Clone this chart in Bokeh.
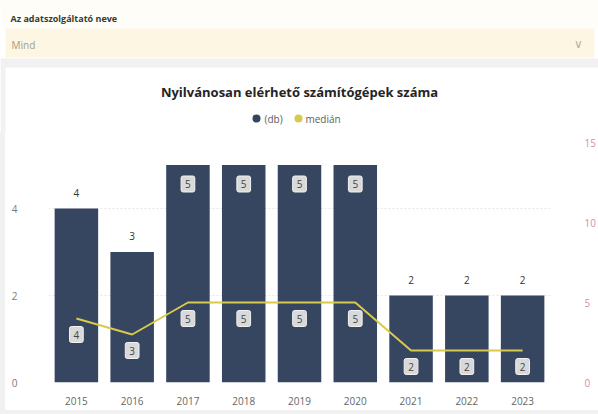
from bokeh.plotting import figure
from bokeh.layouts import column, row
from bokeh.models import Range1d, LinearAxis, FactorRange, FixedTicker, ColumnDataSource, Spacer
from bokeh.core.properties import value
from bokeh.embed import file_html
from bokeh.resources import INLINE

years = ["2015", "2016", "2017", "2018", "2019", "2020", "2021", "2022", "2023"]
db_counts = [4, 3, 5, 5, 5, 5, 2, 2, 2]
median_vals = [4, 3, 5, 5, 5, 5, 2, 2, 2]
left_ticks = [0, 2, 4]
right_ticks = [0, 5, 10, 15]
title_text = "Nyilvánosan elérhető számítógépek száma"
legend_names = ["(db)", "medián"]
filter_label = "Az adatszolgáltató neve"
filter_value = "Mind"

FONT = "Open Sans"
BAR = "#364660"
MED = "#d9c94c"
GRAY = "#f1f1f1"
W = 598
HH = 132           # header height (pixels)
SIDE = 5           # gray strip at left of card
BOT = 4            # gray strip below card
CH = 414 - HH - BOT
FL, FR, FT, FB = 48, 554, 140, 382   # frame edges in page pixels

# ---------------- header (pixel-space figure) ----------------
h = figure(width=W, height=HH, x_range=Range1d(0, W), y_range=Range1d(HH, 0),
           output_backend="svg", toolbar_location=None,
           x_axis_location=None, y_axis_location=None, min_border=0)
h.frame_align = False
h.grid.visible = False
h.outline_line_color = None
h.background_fill_color = "white"
h.border_fill_color = "white"

h.quad(left=[0], right=[W], top=[0], bottom=[28], fill_color="#fffdf8", line_color=None)
h.quad(left=[5], right=[594], top=[28], bottom=[57], fill_color="#fdf6e3", line_color=None)
h.quad(left=[0], right=[W], top=[58], bottom=[67], fill_color=GRAY, line_color=None)
h.quad(left=[0], right=[SIDE], top=[58], bottom=[HH], fill_color=GRAY, line_color=None)

def htext(x, y, t, size="10px", color="#333", bold=False, align="left"):
    h.text(x=[x], y=[y], text=[t], text_font=value(FONT), text_font_size=size,
           text_color=color, text_font_style="bold" if bold else "normal",
           text_align=align, text_baseline="middle")

htext(10, 18, filter_label, size="9px", color="#3b3a2c", bold=True)
htext(11, 44, filter_value, size="10px", color="#a39d8c")
htext(578, 43, "∨", size="12px", color="#b5b0a5", align="center")
htext(299, 91, title_text, size="13px", color="#252423", bold=True, align="center")
h.scatter(x=[256], y=[118], size=8, marker="circle", fill_color=BAR, line_color=None)
htext(264, 118, legend_names[0], size="10px", color="#605e5c")
h.scatter(x=[298], y=[118], size=8, marker="circle", fill_color=MED, line_color=None)
htext(305, 118, legend_names[1], size="10px", color="#605e5c")

# ---------------- chart ----------------
PW = W - SIDE
p = figure(width=PW, height=CH, x_range=FactorRange(*years, range_padding=0),
           y_range=Range1d(0, (FB - FT) / 43.5),
           output_backend="svg", toolbar_location=None,
           min_border_left=FL - SIDE, min_border_right=W - FR,
           min_border_top=FT - HH, min_border_bottom=CH - (FB - HH))
p.frame_align = False
p.extra_y_ranges = {"right": Range1d(0, (FB - FT) / 16.0)}
p.outline_line_color = None
p.background_fill_color = "white"
p.border_fill_color = "white"

ax = p.yaxis[0]
ax.ticker = FixedTicker(ticks=left_ticks)
ax.axis_line_color = None
ax.major_tick_line_color = None
ax.minor_tick_line_color = None
ax.major_label_text_color = "#7a7a7a"
ax.major_label_text_font = FONT
ax.major_label_text_font_size = "10px"
ax.major_label_standoff = 25

rax = LinearAxis(y_range_name="right", ticker=FixedTicker(ticks=right_ticks))
rax.axis_line_color = None
rax.major_tick_line_color = None
rax.minor_tick_line_color = None
rax.major_label_text_color = "#dc8d99"
rax.major_label_text_font = FONT
rax.major_label_text_font_size = "10px"
rax.major_label_standoff = 28
p.add_layout(rax, "right")

xa = p.xaxis[0]
xa.axis_line_color = None
xa.major_tick_line_color = None
xa.minor_tick_line_color = None
xa.major_label_text_color = "#666666"
xa.major_label_text_font = FONT
xa.major_label_text_font_size = "10px"
xa.major_label_standoff = 8

p.xgrid.grid_line_color = None
p.ygrid.ticker = FixedTicker(ticks=[t for t in left_ticks if t > 0])
p.ygrid.grid_line_color = "#e6e6e6"
p.ygrid.grid_line_dash = "2 2"

src = ColumnDataSource(dict(x=years, top=db_counts, med=median_vals,
                            mlbl=[str(v) for v in median_vals]))
p.vbar(x="x", top="top", width=0.78, source=src, fill_color=BAR, line_color=None)
p.line(x="x", y="med", source=src, y_range_name="right", line_color=MED, line_width=2)

mx = max(db_counts)
out_src = ColumnDataSource(dict(x=[y for y, v in zip(years, db_counts) if v < mx],
                                y=[v for v in db_counts if v < mx],
                                t=[str(v) for v in db_counts if v < mx]))
in_src = ColumnDataSource(dict(x=[y for y, v in zip(years, db_counts) if v == mx],
                               y=[v for v in db_counts if v == mx],
                               t=[str(v) for v in db_counts if v == mx]))
p.text(x="x", y="y", text="t", source=out_src, y_offset=-16, text_align="center",
       text_baseline="middle", text_font=value(FONT), text_font_size="10px", text_color="#333333")
box_kw = dict(background_fill_color="#d9d9d9", border_line_color="#f2f2f2", padding=4, border_radius=2)
p.text(x="x", y="y", text="t", source=in_src, y_offset=19, text_align="center",
       text_baseline="middle", text_font=value(FONT), text_font_size="10px", text_color="#444444", **box_kw)
p.text(x="x", y="med", text="mlbl", source=src, y_range_name="right", y_offset=16, text_align="center",
       text_baseline="middle", text_font=value(FONT), text_font_size="10px", text_color="#444444", **box_kw)

side = Spacer(width=SIDE, height=CH, styles={"background-color": GRAY})
bottom = Spacer(width=W, height=BOT, styles={"background-color": GRAY})
layout = column(h, row(side, p, spacing=0), bottom, spacing=0)
open("out.html", "w").write(file_html(layout, INLINE))
